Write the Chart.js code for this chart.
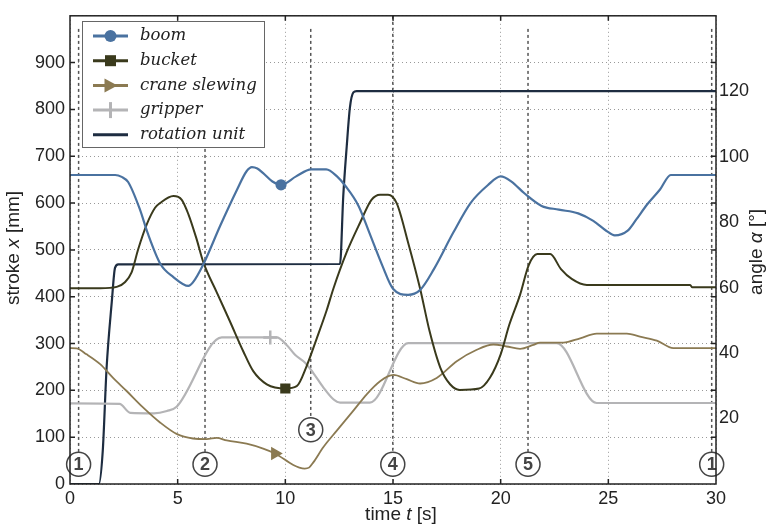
<!DOCTYPE html>
<html>
<head>
<meta charset="utf-8">
<title>stroke and angle over time</title>
<script src="https://cdn.jsdelivr.net/npm/chart.js@4.4.1/dist/chart.umd.min.js"></script>
<style>
  body { margin: 0; background: #fff; }
  canvas { display: block; }
</style>
</head>
<body>
<canvas id="chart" width="770" height="527"></canvas>
<script>
// boom, bucket, gripper -> stroke in mm (left axis)
// crane slewing, rotation unit -> angle in degree (right axis)
const boomTime = [0, 2.1, 2.4, 2.7, 3.25, 3.6, 4.2, 4.8, 5.5, 5.7, 6.2, 6.97, 7.75, 8.2, 8.45, 8.7, 8.97, 9.4, 9.8, 10.5, 11.2, 11.9, 12.4, 12.8, 13.4, 13.9, 14.5, 15.0, 15.7, 16.25, 16.9, 17.8, 18.6, 19.4, 20.0, 20.5, 21.1, 21.9, 22.7, 23.6, 24.3, 24.9, 25.3, 25.9, 26.3, 26.8, 27.4, 27.9, 30];
const boomStroke = [660, 660, 656, 645, 586, 537, 470, 442, 423, 430, 470, 551, 628, 668, 677, 674, 664, 646, 639, 657, 672, 672, 657, 636, 594, 537, 467, 417, 404, 414, 459, 537, 600, 638, 657, 646, 621, 594, 586, 578, 562, 541, 531, 541, 565, 597, 629, 660, 660];

const bucketTime = [0, 1.4, 2.17, 2.55, 2.86, 3.17, 3.56, 3.95, 4.18, 4.8, 5.19, 5.5, 5.88, 6.19, 6.81, 7.43, 8.05, 8.51, 9.14, 10.0, 10.53, 10.99, 11.46, 11.92, 12.23, 12.85, 13.47, 14.0, 14.4, 14.77, 15.17, 15.7, 16.26, 16.7, 17.2, 17.65, 18.1, 19.0, 19.5, 20.0, 20.4, 20.9, 21.3, 21.7, 22.3, 22.8, 23.3, 24.0, 28.8, 28.9, 30];
const bucketStroke = [418, 418, 421, 431, 452, 502, 554, 590, 600, 615, 607, 576, 523, 474, 410, 347, 283, 241, 213, 204, 209, 252, 311, 371, 417, 495, 558, 607, 618, 618, 600, 516, 417, 326, 248, 213, 201, 204, 227, 277, 340, 404, 467, 491, 491, 459, 438, 425, 425, 420, 420];

const slewTime = [0, 0.3, 0.77, 1.4, 2.0, 2.63, 3.39, 4.18, 4.95, 5.71, 6.35, 6.81, 7.28, 8.2, 8.97, 9.52, 10.37, 10.65, 10.9, 11.1, 11.3, 11.77, 12.39, 13.16, 13.78, 14.4, 15.02, 15.64, 16.26, 17.03, 17.96, 18.89, 19.66, 20.28, 20.9, 21.52, 21.83, 22.91, 23.69, 24.46, 25.86, 26.47, 27.25, 28.02, 30];
const slewAngle = [41.5, 41.4, 39.6, 36.6, 32.4, 28.4, 23.4, 18.8, 15.3, 13.9, 13.7, 14.1, 13.3, 12.3, 10.8, 9.3, 5.8, 5.0, 4.7, 5.0, 6.6, 11.3, 16.3, 22.4, 27.4, 31.4, 33.3, 32.0, 30.7, 32.4, 37.5, 41.0, 42.6, 42.0, 41.3, 42.5, 43.2, 43.2, 44.5, 45.9, 45.9, 45.0, 43.8, 41.5, 41.5];

const gripperTime = [0, 2.3, 2.8, 3.9, 4.5, 4.95, 7.05, 9.3, 9.6, 10.06, 10.45, 10.92, 11.3, 11.77, 12.23, 12.54, 13.93, 15.71, 22.6, 24.46, 30];
const gripperStroke = [172, 171, 152, 151, 156, 165, 313, 313, 313, 297, 276, 259, 237, 206, 181, 174, 174, 301, 301, 173, 173];

const rotationTime = [0, 1.34, 1.52, 1.70, 1.94, 2.09, 2.24, 12.54, 12.69, 12.85, 13.0, 13.16, 13.31, 30];
const rotationAngle = [0, 0, 10, 35.5, 55.6, 66, 67.1, 67.2, 87.9, 103, 115, 119.6, 120, 120];

// the numbered phases marked with dashed lines
const phaseTimes = [0.4, 6.27, 11.18, 14.99, 21.27, 29.8];
const phaseLabels = ['1', '2', '3', '4', '5', '1'];
const phaseCircleAt = [42, 42, 116, 42, 42, 42];
const phaseLineTop = [972, 972, 972, 1000, 972, 972];

const colors = {
  boom: '#4a72a0',
  bucket: '#3a3a1c',
  slew: '#8b7a52',
  gripper: '#b4b4b6',
  rotation: '#1e2d41',
};
const tickFont = { family: 'Liberation Sans', size: 18 };

function points(times, values) {
  return times.map((t, i) => ({ x: t, y: values[i] }));
}

// only one marker per curve, like in the legend
function markerOnly(times, t, radius) {
  const idx = times.indexOf(t);
  return (ctx) => (ctx.dataIndex === idx ? radius : 0);
}

function drawMarker(ctx, style, x, y, color) {
  ctx.save();
  ctx.fillStyle = color;
  ctx.strokeStyle = color;
  ctx.beginPath();
  if (style === 'circle') {
    ctx.arc(x, y, 6, 0, Math.PI * 2);
    ctx.fill();
  } else if (style === 'rect') {
    ctx.fillRect(x - 5.5, y - 5.5, 11, 11);
  } else if (style === 'triangle') {
    ctx.moveTo(x - 6, y - 7);
    ctx.lineTo(x + 7, y);
    ctx.lineTo(x - 6, y + 7);
    ctx.closePath();
    ctx.fill();
  } else if (style === 'cross') {
    ctx.lineWidth = 3;
    ctx.moveTo(x, y - 8);
    ctx.lineTo(x, y + 8);
    ctx.stroke();
  }
  ctx.restore();
}

// text made of plain and italic parts, rotated around its centre
function drawTitle(ctx, parts, cx, cy, rot) {
  ctx.save();
  ctx.translate(cx, cy);
  ctx.rotate(rot);
  ctx.fillStyle = '#222';
  ctx.textBaseline = 'middle';
  var widths = parts.map((p) => {
    ctx.font = (p.italic ? 'italic ' : '') + '19px "Liberation Sans"';
    return ctx.measureText(p.text).width;
  });
  var total = widths.reduce((a, b) => a + b, 0);
  var x = -total / 2;
  parts.forEach((p, i) => {
    ctx.font = (p.italic ? 'italic ' : '') + '19px "Liberation Sans"';
    ctx.fillText(p.text, x, 0);
    x += widths[i];
  });
  ctx.restore();
}

const chartDecor = {
  id: 'chartDecor',
  beforeDatasetsDraw(chart) {
    const ctx = chart.ctx;
    const xs = chart.scales.x;
    const ys = chart.scales.y;
    ctx.save();
    for (var i = 0; i < phaseTimes.length; i++) {
      var px = xs.getPixelForValue(phaseTimes[i]);
      var cy = ys.getPixelForValue(phaseCircleAt[i]);
      ctx.strokeStyle = '#555';
      ctx.lineWidth = 1.5;
      ctx.setLineDash([3, 3]);
      ctx.beginPath();
      ctx.moveTo(px, ys.getPixelForValue(phaseLineTop[i]));
      ctx.lineTo(px, cy - 12);
      ctx.stroke();
      ctx.setLineDash([]);
      ctx.beginPath();
      ctx.arc(px, cy, 12, 0, Math.PI * 2);
      ctx.fillStyle = '#fff';
      ctx.fill();
      ctx.strokeStyle = '#444';
      ctx.stroke();
      ctx.fillStyle = '#444';
      ctx.font = 'bold 18px "Liberation Sans"';
      ctx.textAlign = 'center';
      ctx.textBaseline = 'middle';
      ctx.fillText(phaseLabels[i], px, cy + 1);
    }
    ctx.restore();
  },
  afterDatasetsDraw(chart) {
    const ctx = chart.ctx;
    const a = chart.chartArea;
    const xs = chart.scales.x;
    const ys = chart.scales.y;
    ctx.save();
    // frame and inward ticks
    ctx.strokeStyle = '#222';
    ctx.lineWidth = 1.5;
    ctx.strokeRect(a.left, a.top, a.right - a.left, a.bottom - a.top);
    ctx.beginPath();
    for (var t = 5; t < 30; t += 5) {
      var px = xs.getPixelForValue(t);
      ctx.moveTo(px, a.bottom);
      ctx.lineTo(px, a.bottom - 5);
      ctx.moveTo(px, a.top);
      ctx.lineTo(px, a.top + 5);
    }
    for (var v = 100; v < 1000; v += 100) {
      var py = ys.getPixelForValue(v);
      ctx.moveTo(a.left, py);
      ctx.lineTo(a.left + 5, py);
      ctx.moveTo(a.right, py);
      ctx.lineTo(a.right - 5, py);
    }
    ctx.stroke();

    // legend box inside the plot
    var bx = 82, by = 21, bw = 182, bh = 126;
    ctx.fillStyle = '#fff';
    ctx.fillRect(bx, by, bw, bh);
    ctx.strokeStyle = '#666';
    ctx.lineWidth = 1;
    ctx.strokeRect(bx + 0.5, by + 0.5, bw, bh);
    chart.data.datasets.forEach((ds, i) => {
      var ly = 36 + i * 24.7;
      ctx.strokeStyle = ds.borderColor;
      ctx.lineWidth = 3;
      ctx.beginPath();
      ctx.moveTo(93, ly);
      ctx.lineTo(128, ly);
      ctx.stroke();
      if (ds.legendMarker) drawMarker(ctx, ds.legendMarker, 110.5, ly, ds.borderColor);
      ctx.fillStyle = '#222';
      ctx.font = 'italic 16.5px "DejaVu Serif"';
      ctx.textAlign = 'left';
      ctx.textBaseline = 'middle';
      ctx.fillText(ds.label, 140, ly);
    });
    ctx.restore();
  },
  afterDraw(chart) {
    const ctx = chart.ctx;
    const a = chart.chartArea;
    var midY = (a.top + a.bottom) / 2;
    drawTitle(ctx, [{ text: 'stroke ' }, { text: 'x', italic: true }, { text: ' [mm]' }], 14, midY - 2, -Math.PI / 2);
    drawTitle(ctx, [{ text: 'angle ' }, { text: 'α', italic: true }, { text: ' [°]' }], 757, midY + 2, -Math.PI / 2);
    drawTitle(ctx, [{ text: 'time ' }, { text: 't', italic: true }, { text: ' [s]' }], 401, 515, 0);
  },
};

const chart = new Chart(document.getElementById('chart'), {
  type: 'line',
  data: {
    datasets: [
      {
        label: 'boom',
        data: points(boomTime, boomStroke),
        yAxisID: 'y',
        borderColor: colors.boom,
        backgroundColor: colors.boom,
        borderWidth: 2.2,
        pointStyle: 'circle',
        pointRadius: markerOnly(boomTime, 9.8, 4.5),
        legendMarker: 'circle',
      },
      {
        label: 'bucket',
        data: points(bucketTime, bucketStroke),
        yAxisID: 'y',
        borderColor: colors.bucket,
        backgroundColor: colors.bucket,
        borderWidth: 2,
        pointStyle: 'rect',
        pointRadius: markerOnly(bucketTime, 10.0, 5.8),
        legendMarker: 'rect',
      },
      {
        label: 'crane slewing',
        data: points(slewTime, slewAngle),
        yAxisID: 'yA',
        borderColor: colors.slew,
        backgroundColor: colors.slew,
        borderWidth: 1.8,
        pointStyle: 'triangle',
        pointRotation: 90,
        pointRadius: markerOnly(slewTime, 9.52, 6),
        legendMarker: 'triangle',
      },
      {
        label: 'gripper',
        data: points(gripperTime, gripperStroke),
        yAxisID: 'y',
        borderColor: colors.gripper,
        backgroundColor: colors.gripper,
        borderWidth: 2.2,
        pointStyle: 'cross',
        pointBorderWidth: 2.5,
        pointRadius: markerOnly(gripperTime, 9.3, 7),
        legendMarker: 'cross',
      },
      {
        label: 'rotation unit',
        data: points(rotationTime, rotationAngle),
        yAxisID: 'yA',
        borderColor: colors.rotation,
        backgroundColor: colors.rotation,
        borderWidth: 2.2,
        pointRadius: 0,
      },
    ],
  },
  options: {
    responsive: false,
    animation: false,
    events: [],
    cubicInterpolationMode: 'monotone',
    layout: { padding: { top: 11, left: 0, right: 0, bottom: 0 } },
    plugins: {
      legend: { display: false },
      tooltip: { enabled: false },
    },
    scales: {
      x: {
        type: 'linear',
        min: 0,
        max: 30,
        afterFit: (s) => { s.height = 43; },
        ticks: { stepSize: 5, font: tickFont, color: '#222', padding: 4, maxRotation: 0 },
        grid: { color: '#999', lineWidth: 1, drawTicks: false },
        border: { display: false, dash: [1, 3] },
      },
      y: {
        position: 'left',
        min: 0,
        max: 1000,
        afterFit: (s) => { s.width = 70; },
        ticks: {
          stepSize: 100,
          font: tickFont,
          color: '#222',
          padding: 5,
          callback: (v) => (v < 1000 ? v : ''),
        },
        grid: { color: '#999', lineWidth: 1, drawTicks: false },
        border: { display: false, dash: [1, 3] },
      },
      yA: {
        position: 'right',
        min: 0,
        max: 143,
        afterFit: (s) => { s.width = 54; },
        ticks: {
          stepSize: 20,
          font: tickFont,
          color: '#222',
          padding: 3,
          callback: (v) => (v >= 20 && v <= 120 && v % 20 === 0 ? v : ''),
        },
        grid: { display: false, drawTicks: false },
        border: { display: false },
      },
    },
  },
  plugins: [chartDecor],
});
</script>
</body>
</html>
